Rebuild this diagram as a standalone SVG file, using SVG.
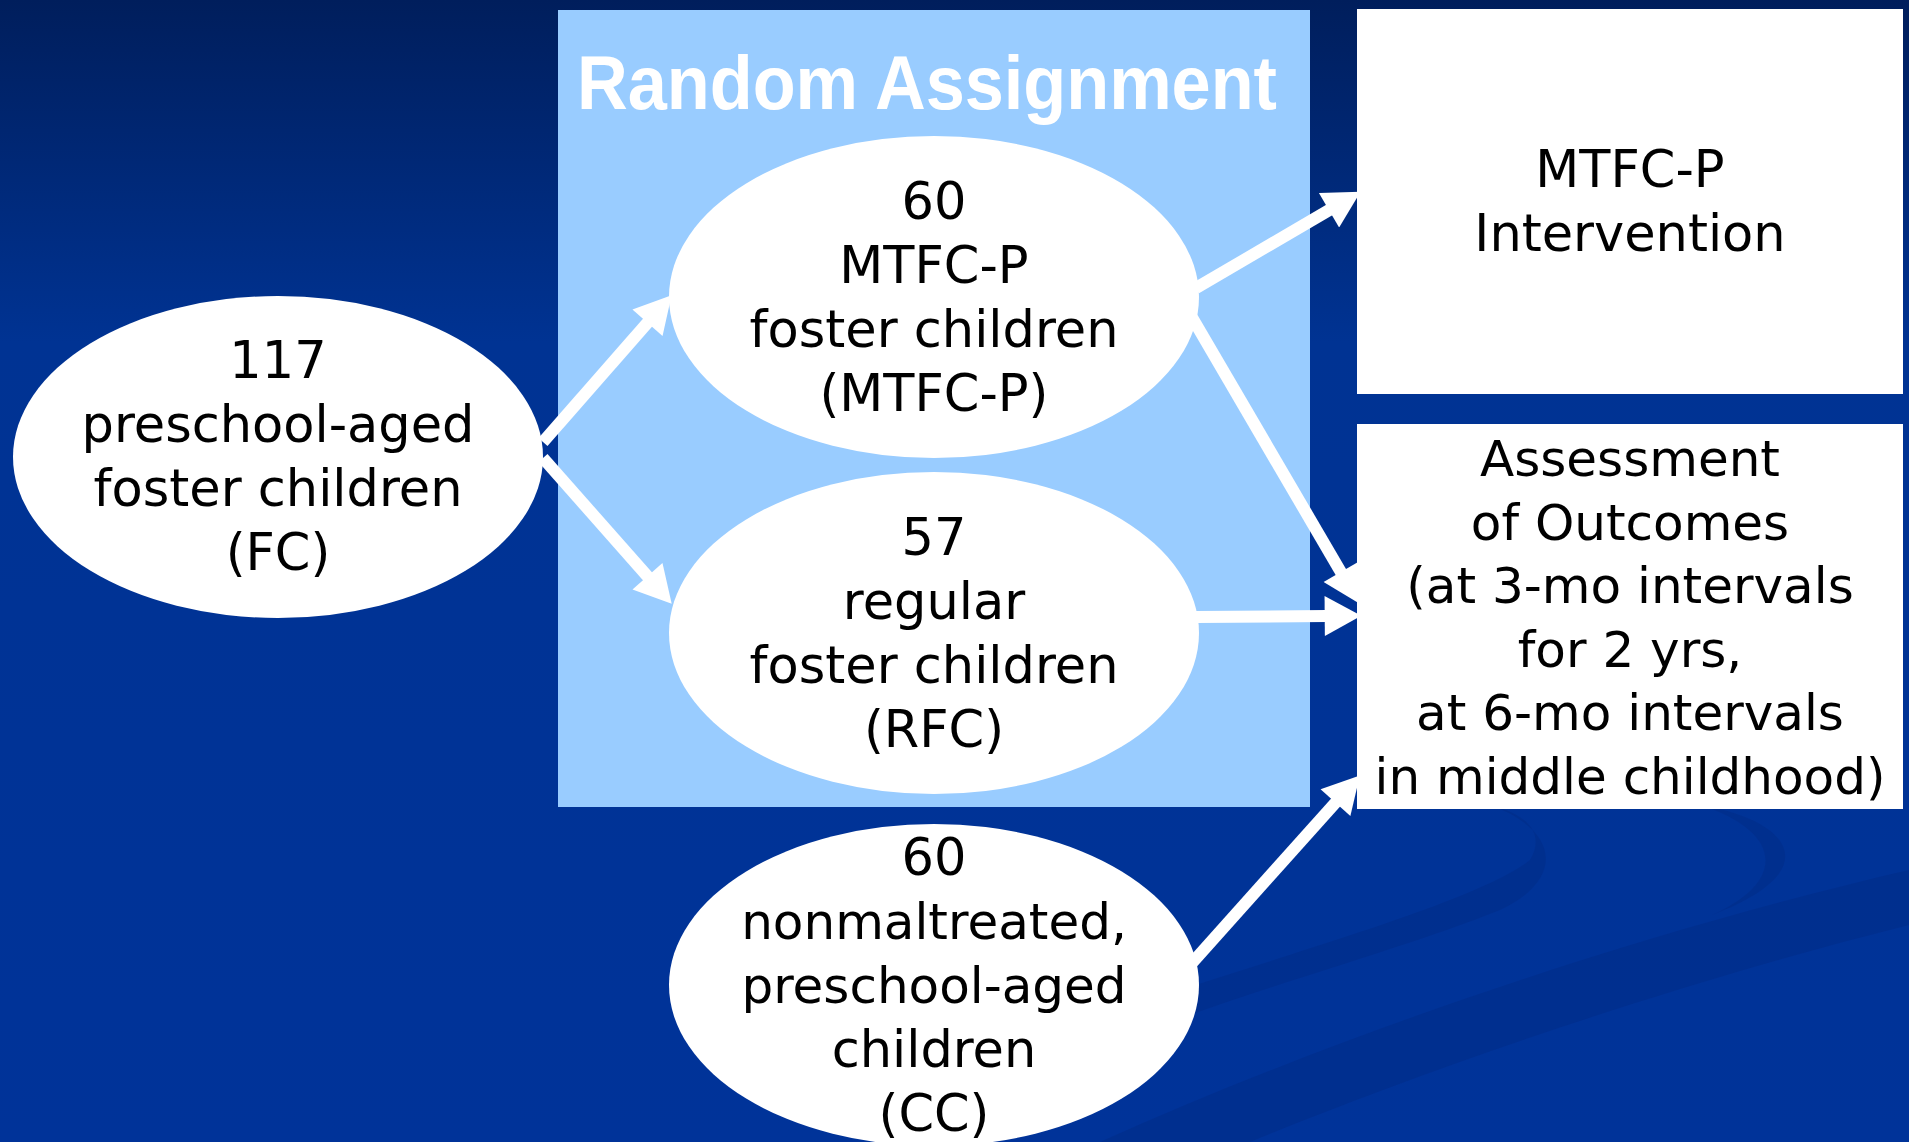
<svg xmlns="http://www.w3.org/2000/svg" width="1909" height="1142" viewBox="0 0 1909 1142">
<defs>
<linearGradient id="bg" x1="0" y1="0" x2="0" y2="1">
<stop offset="0" stop-color="#001e5c"/>
<stop offset="0.3" stop-color="#003393"/>
<stop offset="1" stop-color="#003399"/>
</linearGradient>
<marker id="head" markerUnits="userSpaceOnUse" markerWidth="40" markerHeight="40" viewBox="0 0 32 35" refX="2" refY="17.5" orient="auto">
<path d="M0,0 L32,17.5 L0,35 Z" fill="#ffffff"/>
</marker>
<style>
.node{fill:#ffffff}
.t{font-family:"DejaVu Sans","Liberation Sans",sans-serif;font-size:51px;fill:#000000;text-anchor:middle}
.s{font-size:50px}
.title{font-family:"Liberation Sans",Arial,sans-serif;font-weight:bold;font-size:76px;fill:#ffffff}
.conn{stroke:#ffffff;stroke-width:12;fill:none;marker-end:url(#head)}
.swoosh{fill:#002d88;opacity:0.6}
</style>
</defs>
<rect x="0" y="0" width="1909" height="1142" fill="url(#bg)"/>
<g id="background-swooshes">
<path class="swoosh" d="M1150,1000 C1300,950 1480,900 1530,860 C1545,835 1530,815 1490,805 C1560,830 1565,880 1500,910 C1400,950 1250,990 1150,1030 Z"/>
<path class="swoosh" d="M1700,805 C1790,820 1830,870 1712,915 C1790,880 1780,830 1700,805 Z"/>
<path class="swoosh" d="M1100,1142 C1350,1030 1650,930 1909,870 L1909,925 C1650,990 1400,1080 1250,1142 Z"/>
</g>
<g id="random-assignment">
<rect x="558" y="10" width="752" height="797" fill="#99ccff"/>
<text class="title" x="577" y="109" textLength="700" lengthAdjust="spacingAndGlyphs">Random Assignment</text>
</g>
<g id="connectors">
<line class="conn" x1="543" y1="442" x2="649" y2="321"/>
<line class="conn" x1="543" y1="458" x2="649" y2="578"/>
<line class="conn" x1="1196" y1="288" x2="1331" y2="209"/>
<line class="conn" x1="1190" y1="314" x2="1342" y2="574"/>
<line class="conn" x1="1196" y1="617" x2="1327" y2="616"/>
<line class="conn" x1="1192" y1="963" x2="1337" y2="801"/>
</g>
<g id="node-fc">
<ellipse class="node" cx="278" cy="457" rx="265" ry="161"/>
<text class="t" x="278" y="378">117</text>
<text class="t" x="278" y="442">preschool-aged</text>
<text class="t" x="278" y="506">foster children</text>
<text class="t" x="278" y="570">(FC)</text>
</g>
<g id="node-mtfcp">
<ellipse class="node" cx="934" cy="297" rx="265" ry="161"/>
<text class="t" x="934" y="219">60</text>
<text class="t" x="934" y="283">MTFC-P</text>
<text class="t" x="934" y="347">foster children</text>
<text class="t" x="934" y="411">(MTFC-P)</text>
</g>
<g id="node-rfc">
<ellipse class="node" cx="934" cy="633" rx="265" ry="161"/>
<text class="t" x="934" y="555">57</text>
<text class="t" x="934" y="619">regular</text>
<text class="t" x="934" y="683">foster children</text>
<text class="t" x="934" y="747">(RFC)</text>
</g>
<g id="node-cc">
<ellipse class="node" cx="934" cy="985" rx="265" ry="161"/>
<text class="t" x="934" y="875">60</text>
<text class="t s" x="934" y="939">nonmaltreated,</text>
<text class="t s" x="934" y="1003">preschool-aged</text>
<text class="t" x="934" y="1067">children</text>
<text class="t" x="934" y="1131">(CC)</text>
</g>
<g id="node-intervention">
<rect class="node" x="1357" y="9" width="546" height="385"/>
<text class="t" x="1630" y="187">MTFC-P</text>
<text class="t" x="1630" y="251">Intervention</text>
</g>
<g id="node-assessment">
<rect class="node" x="1357" y="424" width="546" height="385"/>
<text class="t s" x="1630" y="476">Assessment</text>
<text class="t s" x="1630" y="540">of Outcomes</text>
<text class="t s" x="1630" y="603">(at 3-mo intervals</text>
<text class="t s" x="1630" y="667">for 2 yrs,</text>
<text class="t s" x="1630" y="730">at 6-mo intervals</text>
<text class="t s" x="1630" y="794">in middle childhood)</text>
</g>
</svg>
